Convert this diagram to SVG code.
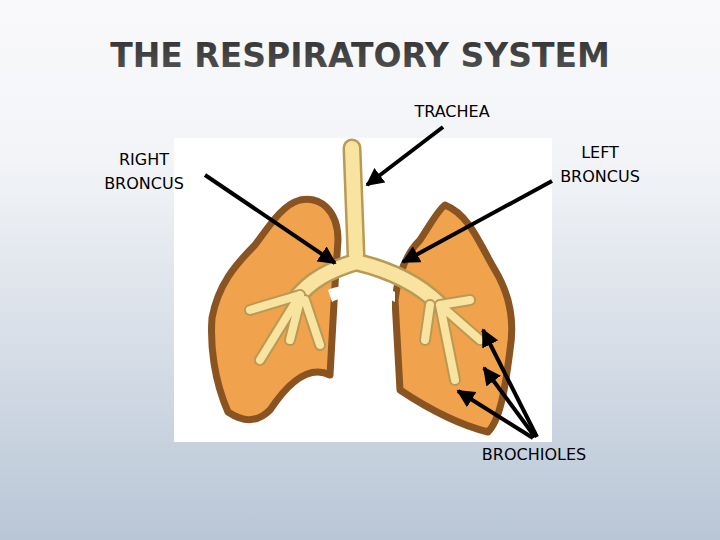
<svg xmlns="http://www.w3.org/2000/svg" width="720" height="540" viewBox="0 0 720 540">
<defs>
<linearGradient id="bg" x1="0" y1="0" x2="0" y2="1"><stop offset="0" stop-color="#f9f9fb"/><stop offset="0.3" stop-color="#f2f4f7"/><stop offset="1" stop-color="#b9c6d6"/></linearGradient>
<linearGradient id="tg" x1="0" y1="0" x2="0" y2="1"><stop offset="0" stop-color="#333"/><stop offset="1" stop-color="#555"/></linearGradient>
<marker id="ah" viewBox="0 0 10 10" refX="9" refY="5" markerWidth="4.5" markerHeight="4.5" orient="auto"><path d="M0,0 L10,5 L0,10 z" fill="#000"/></marker>
<style>
.lbl{font-family:"DejaVu Sans",sans-serif;font-size:16px;fill:#000}
.lung{fill:#f0a24c;stroke:#8a5422;stroke-width:7;stroke-linejoin:round}
.br{fill:none;stroke-linecap:round;stroke-linejoin:round}
.arr{stroke:#000;stroke-width:4;fill:none;marker-end:url(#ah)}
</style>
</defs>
<rect width="720" height="540" fill="url(#bg)"/>
<text x="360" y="67" text-anchor="middle" font-family="'DejaVu Sans',sans-serif" font-weight="bold" font-size="33" fill="url(#tg)">THE RESPIRATORY SYSTEM</text>
<g id="picture">
<rect x="174" y="138" width="378" height="304" fill="#fff"/>
<path class="lung" d="M300,200 C320,196 338,210 338,240 L335,285 L330,375 C310,365 290,380 270,410 C255,425 240,420 228,412 C214,380 210,345 212,318 C218,285 235,265 255,245 C270,225 282,205 300,200 z"/>
<path class="lung" d="M445,205 C470,215 480,245 495,270 C510,295 515,320 510,350 C505,390 500,420 488,432 C460,425 430,410 400,390 L395,300 C398,275 405,255 420,240 C430,225 438,210 445,205 z"/>
<path class="br" style="stroke:#b99a55;stroke-width:19" d="M352,148 L356,255 M356,262 C330,270 310,280 295,300 M356,262 C390,270 420,285 440,305"/>
<path class="br" style="stroke:#f8e3a0;stroke-width:14" d="M352,148 L356,255 M356,262 C330,270 310,280 295,300 M356,262 C390,270 420,285 440,305"/>
<path class="br" style="stroke:#b99a55;stroke-width:12" d="M300,295 L250,310 M300,295 L260,360 M305,300 L320,345 M300,300 L290,340 M440,305 L470,300 M440,305 L480,340 M440,305 L455,380 M430,305 L425,340"/>
<path class="br" style="stroke:#f8e3a0;stroke-width:8" d="M300,295 L250,310 M300,295 L260,360 M305,300 L320,345 M300,300 L290,340 M440,305 L470,300 M440,305 L480,340 M440,305 L455,380 M430,305 L425,340"/>
<path d="M328,290 C342,283 380,283 395,292 L395,302 C380,294 345,294 332,302 z" fill="#fff"/>
<rect x="340" y="294" width="52" height="146" fill="#fff"/>
</g>
<g id="labels">
<text class="lbl" x="452" y="117" text-anchor="middle">TRACHEA</text>
<text class="lbl" x="144" y="165" text-anchor="middle">RIGHT</text>
<text class="lbl" x="144" y="189" text-anchor="middle">BRONCUS</text>
<text class="lbl" x="600" y="158" text-anchor="middle">LEFT</text>
<text class="lbl" x="600" y="182" text-anchor="middle">BRONCUS</text>
<text class="lbl" x="534" y="460" text-anchor="middle">BROCHIOLES</text>
</g>
<g id="connectors">
<line class="arr" x1="443" y1="127" x2="367" y2="185"/>
<line class="arr" x1="205" y1="175" x2="335" y2="263"/>
<line class="arr" x1="552" y1="181" x2="403" y2="262"/>
<line class="arr" x1="537" y1="437" x2="483" y2="330"/>
<line class="arr" x1="535" y1="437" x2="484" y2="368"/>
<line class="arr" x1="533" y1="438" x2="458" y2="391"/>
</g>
</svg>
